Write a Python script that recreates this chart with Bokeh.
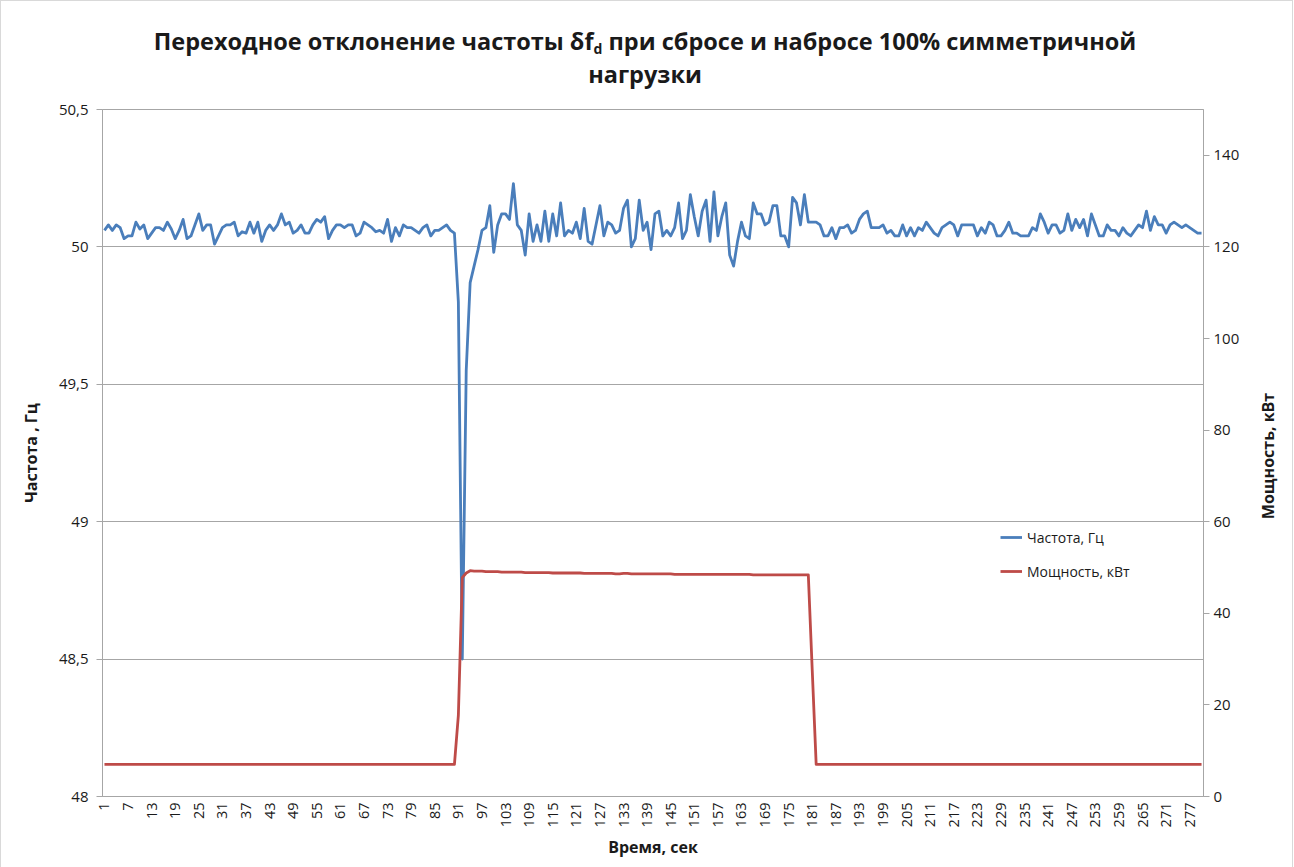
import math
from bokeh.plotting import figure
from bokeh.models import Range1d, LinearAxis, FixedTicker, Div
from bokeh.layouts import column, row
from bokeh.embed import file_html
from bokeh.resources import INLINE

# ---------------- data ----------------
time_s = list(range(1, 281))

freq_hz = [
    50.06, 50.08, 50.06, 50.08, 50.07, 50.03, 50.04, 50.04, 50.09, 50.065,
    50.08, 50.03, 50.05, 50.07, 50.07, 50.06, 50.09, 50.065, 50.03, 50.06,
    50.10, 50.03, 50.04, 50.08, 50.12, 50.06, 50.08, 50.08, 50.01, 50.04,
    50.07, 50.08, 50.08, 50.09, 50.04, 50.055, 50.05, 50.09, 50.05, 50.09,
    50.02, 50.06, 50.08, 50.06, 50.08, 50.12, 50.08, 50.09, 50.05, 50.06,
    50.08, 50.05, 50.05, 50.08, 50.10, 50.09, 50.11, 50.03, 50.06, 50.08,
    50.08, 50.07, 50.08, 50.08, 50.04, 50.05, 50.09, 50.08, 50.07, 50.055,
    # 71-141
    50.06, 50.05, 50.10, 50.02, 50.07, 50.04, 50.08, 50.07, 50.07, 50.06,
    50.05, 50.07, 50.08, 50.04, 50.06, 50.06, 50.07, 50.08, 50.06, 50.05,
    49.80, 48.50, 49.55, 49.87, 49.93, 49.99, 50.06, 50.07, 50.15, 49.98,
    50.08, 50.12, 50.12, 50.10, 50.23, 50.08, 50.06, 49.97, 50.12, 50.02,
    50.08, 50.02, 50.13, 50.02, 50.12, 50.04, 50.16, 50.04, 50.06, 50.05,
    50.09, 50.03, 50.14, 50.02, 50.01, 50.08, 50.15, 50.04, 50.09, 50.08,
    50.05, 50.06, 50.14, 50.17, 50.00, 50.03, 50.17, 50.06, 50.09, 49.99,
    50.12,
    # 142-212
    50.13, 50.04, 50.06, 50.04, 50.07, 50.16, 50.03, 50.06, 50.19,
    50.11, 50.04, 50.13, 50.17, 50.02, 50.20, 50.04, 50.11, 50.16, 49.97,
    49.93, 50.02, 50.09, 50.04, 50.03, 50.16, 50.12, 50.12, 50.08, 50.09,
    50.15, 50.15, 50.04, 50.04, 50.00, 50.18, 50.16, 50.08, 50.19, 50.09,
    50.09, 50.09, 50.08, 50.04, 50.04, 50.07, 50.03, 50.07, 50.07, 50.08,
    50.05, 50.06, 50.10, 50.12, 50.13, 50.07, 50.07, 50.07, 50.08, 50.05,
    50.06, 50.04, 50.04, 50.08, 50.04, 50.07, 50.04, 50.07, 50.06, 50.09,
    50.07, 50.05,
    # 213-280
    50.04, 50.07, 50.08, 50.09, 50.08, 50.04, 50.08, 50.08, 50.08, 50.08,
    50.04, 50.07, 50.05, 50.09, 50.08, 50.04, 50.04, 50.06, 50.09, 50.05,
    50.05, 50.04, 50.04, 50.04, 50.07, 50.06, 50.12, 50.09, 50.05, 50.08,
    50.08, 50.05, 50.06, 50.12, 50.06, 50.10, 50.07, 50.10, 50.04, 50.12,
    50.08, 50.04, 50.04, 50.08, 50.06, 50.06, 50.04, 50.07, 50.05, 50.04,
    50.06, 50.08, 50.07, 50.13, 50.06, 50.11, 50.08, 50.08, 50.05, 50.08,
    50.09, 50.08, 50.07, 50.08, 50.07, 50.06, 50.05, 50.05,
]

power_before = [7.0] * 90
power_rise = [17.7, 47.8, 48.8, 49.3]
power_load = [
    49.2, 49.2, 49.2, 49.1, 49.1, 49.1,
    49.1, 49.0, 49.0, 49.0, 49.0, 49.0, 49.0, 48.9, 48.9, 48.9,
    48.9, 48.9, 48.9, 48.9, 48.8, 48.8, 48.8, 48.8, 48.8, 48.8,
    48.8, 48.8, 48.7, 48.7, 48.7, 48.7, 48.7, 48.7, 48.7, 48.7,
    48.6, 48.6, 48.7, 48.7, 48.6, 48.6, 48.6, 48.6, 48.6, 48.6,
    48.6, 48.6, 48.6, 48.6, 48.6, 48.5, 48.5, 48.5, 48.5, 48.5,
    48.5, 48.5, 48.5, 48.5, 48.5, 48.5, 48.5, 48.5, 48.5, 48.5,
    48.5, 48.5, 48.5, 48.5, 48.5, 48.4, 48.4, 48.4, 48.4, 48.4,
    48.4, 48.4, 48.4, 48.4, 48.4, 48.4, 48.4, 48.4, 48.4, 48.4,
]
power_drop = [27.5]
power_after = [7.0] * 99
power_kw = power_before + power_rise + power_load + power_drop + power_after

x_ticks = list(range(1, 281, 6))
freq_ticks = [48, 48.5, 49, 49.5, 50, 50.5]
freq_tick_labels = ["48", "48,5", "49", "49,5", "50", "50,5"]
power_ticks = [0, 20, 40, 60, 80, 100, 120, 140]

series_names = ["Частота, Гц", "Мощность, кВт"]
x_title = "Время, сек"
y_title = "Частота , Гц"
y2_title = "Мощность, кВт"
title_line1 = ("Переходное отклонение частоты δf"
               "<span style='font-size:14px;line-height:0;position:relative;top:4px'>d</span> "
               "при сбросе и набросе 100% симметричной")
title_line2 = "нагрузки"

# ---------------- styling ----------------
FONT = "Open Sans"
BLUE = "#4a7ebb"
RED = "#be4b48"
GRID = "#a6a6a6"
AXIS = "#a6a6a6"
TXT = "#1a1a1a"
FW, FH = 1101, 687
B_LEFT, B_RIGHT, B_TOP, B_BOTTOM = 101, 38, 12, 62
FIG_H = B_TOP + FH + B_BOTTOM
RIGHT_W = 40

p = figure(
    frame_width=FW, frame_height=FH,
    x_range=Range1d(0.5, 280.5), y_range=Range1d(48, 50.5),
    output_backend="svg", toolbar_location=None,
    min_border_left=B_LEFT, min_border_right=B_RIGHT,
    min_border_top=B_TOP, min_border_bottom=B_BOTTOM,
)
p.extra_y_ranges = {"power": Range1d(0, 150)}

p.outline_line_color = AXIS
p.xgrid.grid_line_color = None
p.ygrid.grid_line_color = GRID
p.ygrid.grid_line_width = 1
p.ygrid.ticker = FixedTicker(ticks=freq_ticks)

# x axis
xa = p.xaxis[0]
xa.ticker = FixedTicker(ticks=x_ticks)
xa.major_label_orientation = math.pi / 2
xa.major_tick_out = 0
xa.major_tick_in = 0
xa.minor_tick_out = 0
xa.minor_tick_in = 0
xa.axis_line_color = AXIS
xa.major_label_text_font = FONT
xa.major_label_text_font_size = "14.5px"
xa.major_label_text_color = TXT
xa.major_label_standoff = 6
xa.axis_label = x_title
xa.axis_label_text_font = FONT
xa.axis_label_text_font_style = "bold"
xa.axis_label_text_font_size = "16px"
xa.axis_label_text_color = TXT
xa.axis_label_standoff = 6

# left axis
ya = p.yaxis[0]
ya.ticker = FixedTicker(ticks=freq_ticks)
ya.major_label_overrides = {t: l for t, l in zip(freq_ticks, freq_tick_labels)}
ya.major_tick_out = 6
ya.major_tick_in = 0
ya.minor_tick_out = 0
ya.minor_tick_in = 0
ya.major_tick_line_color = AXIS
ya.axis_line_color = AXIS
ya.major_label_text_font = FONT
ya.major_label_text_font_size = "15px"
ya.major_label_text_color = TXT
ya.major_label_standoff = 8
ya.axis_label = y_title
ya.axis_label_text_font = FONT
ya.axis_label_text_font_style = "bold"
ya.axis_label_text_font_size = "16px"
ya.axis_label_text_color = TXT
ya.axis_label_standoff = 14

# right axis (its title is drawn beside it, reading bottom-to-top)
ra = LinearAxis(y_range_name="power", ticker=FixedTicker(ticks=power_ticks))
ra.major_tick_out = 6
ra.major_tick_in = 0
ra.minor_tick_out = 0
ra.minor_tick_in = 0
ra.major_tick_line_color = AXIS
ra.axis_line_color = AXIS
ra.major_label_text_font = FONT
ra.major_label_text_font_size = "15px"
ra.major_label_text_color = TXT
ra.major_label_standoff = 4
p.add_layout(ra, "right")

p.line(time_s, freq_hz, line_color=BLUE, line_width=2.8, line_join="round",
       legend_label=series_names[0])
p.line(time_s, power_kw, y_range_name="power", line_color=RED, line_width=2.8,
       line_join="round", legend_label=series_names[1])

lg = p.legend[0]
lg.location = (898, 215)
lg.padding = 0
lg.margin = 0
lg.spacing = 14
lg.glyph_width = 22
lg.glyph_height = 20
lg.label_standoff = 5
lg.border_line_color = None
lg.background_fill_alpha = 0
lg.label_text_font = FONT
lg.label_text_font_size = "14px"
lg.label_text_color = TXT

title = Div(
    text=f"<div style=\"font-family:'{FONT}';font-weight:bold;font-size:23.5px;"
         f"text-align:center;color:{TXT};width:1278px\">"
         f"<div style='line-height:30px;padding-top:20px'>{title_line1}</div>"
         f"<div style='line-height:30px;margin-top:3px'>{title_line2}</div></div>",
    width=1278, height=86,
)

frame_mid = B_TOP + FH / 2 - 2
right_title = Div(
    text=f"<div style=\"position:absolute;left:21px;top:{frame_mid}px;"
         f"transform:translate(-50%,-50%) rotate(-90deg);white-space:nowrap;"
         f"font-family:'{FONT}';font-weight:bold;font-size:16px;color:{TXT}\">{y2_title}</div>",
    width=RIGHT_W, height=FIG_H, styles={"position": "relative", "overflow": "visible"},
)

layout = column(title, row(p, right_title, spacing=0), spacing=0,
                styles={"border": "1px solid #d9d9d9"})

open("out.html", "w").write(file_html(layout, INLINE))
